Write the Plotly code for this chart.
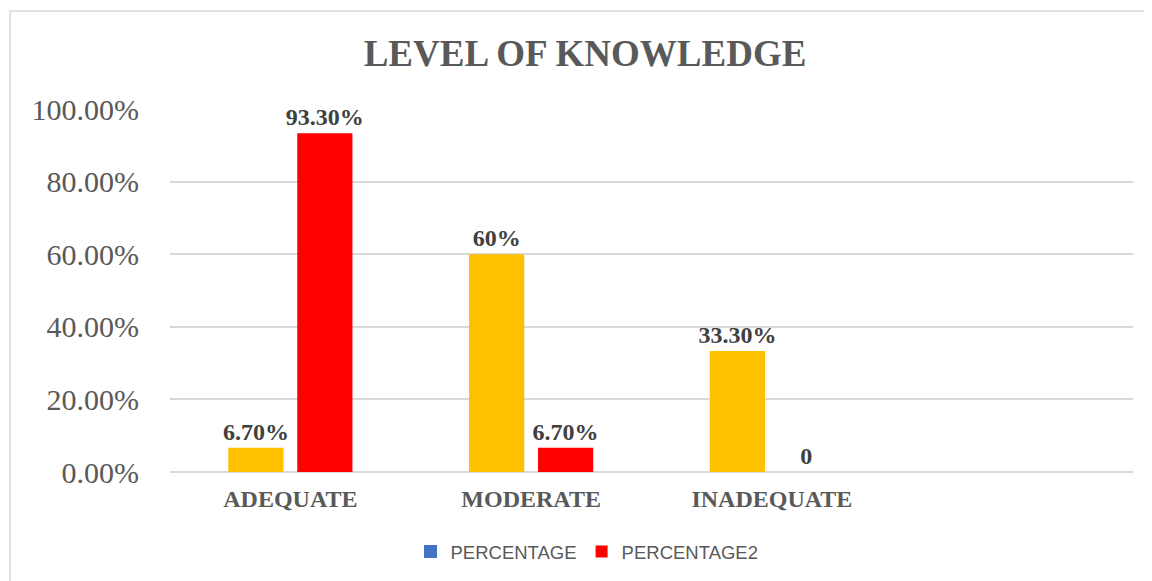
import plotly.graph_objects as go

categories = ["ADEQUATE", "MODERATE", "INADEQUATE"]
percentage = [6.7, 60.0, 33.3]
percentage2 = [93.3, 6.7, 0.0]
labels1 = ["6.70%", "60%", "33.30%"]
labels2 = ["93.30%", "6.70%", "0"]
series_names = ["PERCENTAGE", "PERCENTAGE2"]
y_ticks = [0, 20, 40, 60, 80, 100]
y_tick_labels = ["0.00%", "20.00%", "40.00%", "60.00%", "80.00%", "100.00%"]

SERIF = "Liberation Serif, Times New Roman, serif"
GRAY = "#595959"
LABEL = "#404040"

# the page is drawn with an 8px offset, so the figure is sized to compensate
W, H = 1144, 573
PL, PR, PT, PB = 162, 19, 101, 109
PW = W - PL - PR
PH = H - PT - PB

fig = go.Figure()
fig.add_trace(go.Bar(
    x=categories, y=percentage, name=series_names[0], showlegend=False,
    marker=dict(color="#FFC000", line=dict(width=0)),
    text=["<b>" + t + "</b>" for t in labels1], textposition="outside", cliponaxis=False,
    constraintext="none",
    textfont=dict(family=SERIF, size=24, color=LABEL),
))
fig.add_trace(go.Bar(
    x=categories, y=percentage2, name=series_names[1], legendrank=2,
    marker=dict(color="#FF0000", line=dict(width=0)),
    text=["<b>" + t + "</b>" for t in labels2], textposition="outside", cliponaxis=False,
    constraintext="none",
    textfont=dict(family=SERIF, size=24, color=LABEL),
))
# legend entry for the first series (legend swatch shown in blue as in the original)
fig.add_trace(go.Scatter(
    x=[None], y=[None], mode="markers", name=series_names[0], legendrank=1,
    marker=dict(symbol="square", size=13, color="#4472C4"),
))

fig.update_layout(
    width=W, height=H,
    paper_bgcolor="white", plot_bgcolor="white",
    margin=dict(l=PL, r=PR, t=PT, b=PB, pad=0, autoexpand=False),
    barmode="group", bargap=0.427, bargroupgap=0.2,
    title=dict(text="<b>LEVEL OF KNOWLEDGE</b>", font=dict(family=SERIF, size=37, color=GRAY),
               x=0.431, xref="paper", xanchor="center", y=1 - 45 / H, yref="container", yanchor="middle"),
    xaxis=dict(type="category", categoryorder="array", categoryarray=categories,
               range=[-0.5, 3.5], showgrid=False, showline=False, ticks="",
               tickfont=dict(family=SERIF, size=24, color=GRAY), ticklabelstandoff=10,
               tickprefix="<b>", ticksuffix="</b>"),
    yaxis=dict(range=[0, 100], tickvals=y_ticks, ticktext=y_tick_labels,
               showgrid=True, gridcolor="#D9D9D9", gridwidth=1.5,
               zeroline=True, zerolinecolor="#D9D9D9", zerolinewidth=1.5,
               showline=False, ticks="", ticklabelstandoff=30,
               tickfont=dict(family=SERIF, size=30, color=GRAY)),
    legend=dict(orientation="h", x=(579 - PL) / PW, xanchor="center",
                y=1 - 544 / H, yref="container", yanchor="middle",
                font=dict(family="Liberation Sans, Arial, sans-serif", size=18.5, color=GRAY),
                itemwidth=30, tracegroupgap=0),
    shapes=[dict(type="rect", xref="paper", yref="paper",
                 x0=(2 - PL) / PW, x1=(W + 30 - PL) / PW,
                 y0=-(H + 30 - (PT + PH)) / PH, y1=1 + (PT - 3) / PH,
                 line=dict(color="#D9D9D9", width=1.5), fillcolor="rgba(0,0,0,0)", layer="below")],
)

fig.write_html("out.html")
